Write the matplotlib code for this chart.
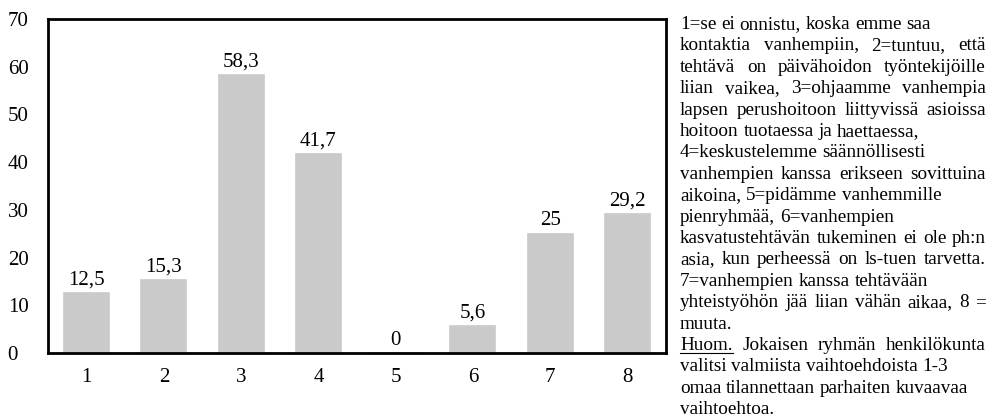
import numpy as np
import matplotlib
matplotlib.use('Agg')
from matplotlib import pyplot as plt
from matplotlib.lines import Line2D

categories = ['1', '2', '3', '4', '5', '6', '7', '8']
values = [12.5, 15.3, 58.3, 41.7, 0, 5.6, 25, 29.2]
yticks = [0, 10, 20, 30, 40, 50, 60, 70]

note_lines = [
    '1=se ei onnistu, koska emme saa',
    'kontaktia vanhempiin, 2=tuntuu, että',
    'tehtävä on päivähoidon työntekijöille',
    'liian vaikea, 3=ohjaamme vanhempia',
    'lapsen perushoitoon liittyvissä asioissa',
    'hoitoon tuotaessa ja haettaessa,',
    '4=keskustelemme säännöllisesti',
    'vanhempien kanssa erikseen sovittuina',
    'aikoina, 5=pidämme vanhemmille',
    'pienryhmää, 6=vanhempien',
    'kasvatustehtävän tukeminen ei ole ph:n',
    'asia, kun perheessä on ls-tuen tarvetta.',
    '7=vanhempien kanssa tehtävään',
    'yhteistyöhön jää liian vähän aikaa, 8 =',
    'muuta.',
    'Huom. Jokaisen ryhmän henkilökunta',
    'valitsi valmiista vaihtoehdoista 1-3',
    'omaa tilannettaan parhaiten kuvaavaa',
    'vaihtoehtoa.',
]
justified = [0, 1, 1, 1, 1, 0, 0, 1, 0, 0, 1, 1, 0, 1, 0, 1, 0, 0, 0]

plt.rcParams['font.family'] = ['Liberation Serif', 'DejaVu Serif']

W, H = 991, 416
fig = plt.figure(figsize=(W / 100, H / 100), dpi=100)
ax = fig.add_axes([48 / W, 1 - 353 / H, (666 - 48) / W, (353 - 19) / H])

x = np.arange(1, len(categories) + 1)
bars = ax.bar(x, values, width=0.58, color='#cacaca', edgecolor='#cacaca', linewidth=1.2)
for b, v in zip(bars, values):
    lab = ('%g' % v).replace('.', ',')
    ax.annotate(lab, (b.get_x() + b.get_width() / 2, v), xytext=(0, 2.5),
                textcoords='offset points', ha='center', va='bottom', fontsize=15)

ax.set_xlim(0.5, len(categories) + 0.5)
ax.set_ylim(0, 70)
ax.set_xticks(x)
ax.set_xticklabels(categories, fontsize=15)
ax.set_yticks(yticks)
ax.set_yticklabels([str(t) for t in yticks], fontsize=15, ha='left')
ax.tick_params(axis='x', length=0, pad=11)
ax.tick_params(axis='y', length=0, pad=29)
for s in ax.spines.values():
    s.set_linewidth(2)
    s.set_color('black')

# explanation text on the right, word by word so lines can be justified
fig.canvas.draw()
r = fig.canvas.get_renderer()
left, right = 680, 986
top, step = 29, 21.4
fs = 13.8


def px_width(t):
    return t.get_window_extent(r).width


probe = fig.text(0, 0, 'x x', fontsize=fs)
probe2 = fig.text(0, 0, 'xx', fontsize=fs)
space = px_width(probe) - px_width(probe2)
probe.remove()
probe2.remove()

for i, (line, just) in enumerate(zip(note_lines, justified)):
    y = H - (top + i * step)
    words = line.split(' ')
    texts = [fig.text(0, y / H, w, fontsize=fs, va='baseline', ha='left') for w in words]
    widths = [px_width(t) for t in texts]
    if just and len(words) > 1:
        gap = (right - left - sum(widths)) / (len(words) - 1)
    else:
        gap = space
    pos = left
    for t, w in zip(texts, widths):
        t.set_x(pos / W)
        pos += w + gap
    if words[0] == 'Huom.':
        fig.add_artist(Line2D([left / W, (left + widths[0]) / W], [(y - 3) / H] * 2,
                              color='black', linewidth=0.8))

fig.savefig('out.png', dpi=100)
